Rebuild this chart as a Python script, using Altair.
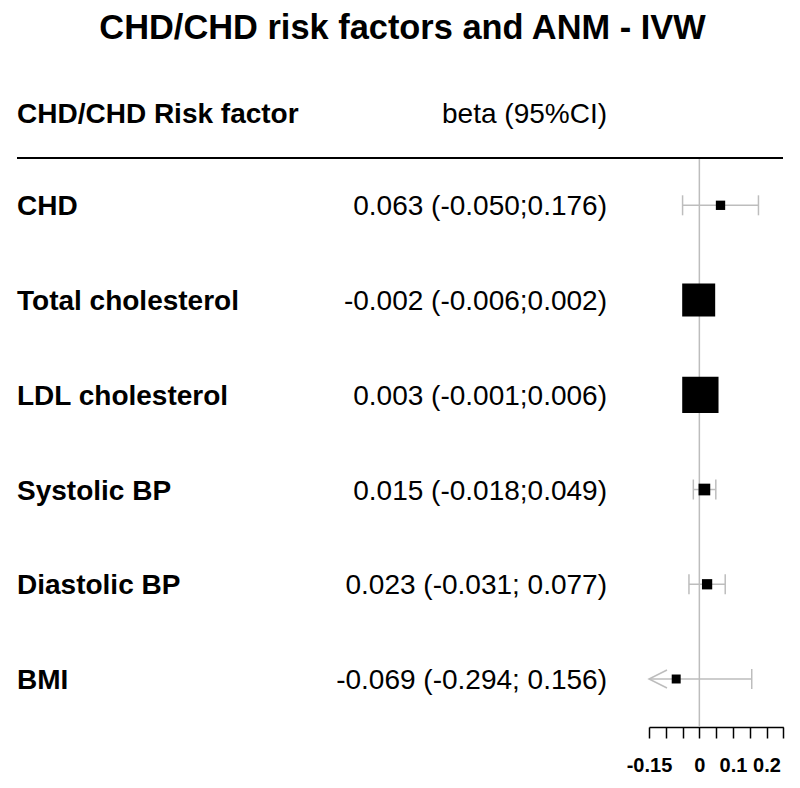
import altair as alt
import pandas as pd

# ---------------- data ----------------
chart_title = "CHD/CHD risk factors and ANM - IVW"
header_left = "CHD/CHD Risk factor"
header_right = "beta (95%CI)"

factors = ["CHD", "Total cholesterol", "LDL cholesterol", "Systolic BP", "Diastolic BP", "BMI"]
beta = [0.063, -0.002, 0.003, 0.015, 0.023, -0.069]
lower = [-0.050, -0.006, -0.001, -0.018, -0.031, -0.294]
upper = [0.176, 0.002, 0.006, 0.049, 0.077, 0.156]
ci_text = [
    "0.063 (-0.050;0.176)",
    "-0.002 (-0.006;0.002)",
    "0.003 (-0.001;0.006)",
    "0.015 (-0.018;0.049)",
    "0.023 (-0.031; 0.077)",
    "-0.069 (-0.294; 0.156)",
]
box_weight = [6.6, 82.6, 100, 10.4, 8.0, 6.1]  # relative box weight (%)

tick_values = [-0.15, -0.1, -0.05, 0, 0.05, 0.1, 0.15, 0.2, 0.25]
tick_label_values = [-0.15, 0, 0.1, 0.2]
tick_labels = ["-0.15", "0", "0.1", "0.2"]
x_min, x_max = -0.15, 0.25

# ---------------- tables ----------------
rows = list(range(len(factors)))
df = pd.DataFrame({
    "row": rows,
    "factor": factors,
    "beta": beta,
    "lower": lower,
    "upper": upper,
    "lo": [max(v, x_min) for v in lower],
    "hi": [min(v, x_max) for v in upper],
    "ci": ci_text,
    "w": box_weight,
})

caps = pd.DataFrame(
    [{"row": r, "x": l} for r, l in zip(rows, lower) if l >= x_min]
    + [{"row": r, "x": u} for r, u in zip(rows, upper) if u <= x_max]
)
arrows = pd.DataFrame([{"row": r, "x": x_min} for r, l in zip(rows, lower) if l < x_min])
zero_df = pd.DataFrame({"x": [0]})

GRAY = "#bdbdbd"
FONT = "Liberation Sans"
TXT = 28

label_expr = " : ".join(
    f"abs(datum.value - ({v})) < 1e-9 ? '{t}'" for v, t in zip(tick_label_values, tick_labels)
) + " : ''"

xscale = alt.Scale(domain=[x_min, x_max], range=[641, 775.3], nice=False, zero=False)
xaxis = alt.Axis(
    values=tick_values, labelExpr=label_expr, title=None, grid=False,
    domainColor="black", domainWidth=1.5, tickColor="black", tickWidth=1.5,
    tickSize=11, labelFont=FONT, labelFontWeight="bold", labelFontSize=20,
    labelColor="black", labelPadding=17, labelFlush=False, labelOverlap=False,
)
yscale = alt.Scale(domain=[0, 5], range=[197.3, 671], nice=False, zero=False)


def X(field):
    return alt.X(field, type="quantitative", scale=xscale, axis=xaxis)


def Y():
    return alt.Y("row:Q", scale=yscale, axis=None)


zero_line = alt.Chart(zero_df).mark_rule(color=GRAY, strokeWidth=1.5).encode(
    x=X("x"), y=alt.value(150), y2=alt.value(719)
)

ci_lines = alt.Chart(df).mark_rule(color=GRAY, strokeWidth=1.5).encode(
    x=X("lo"), x2="hi", y=Y()
)

cap_ticks = alt.Chart(caps).mark_tick(
    color=GRAY, orient="vertical", size=20, thickness=1.5, opacity=1
).encode(x=X("x"), y=Y())

arrow_heads = alt.Chart(arrows).mark_point(
    shape="M2,-1 L0,0 L2,1", size=324, filled=False, color=GRAY,
    strokeWidth=1.5, opacity=1
).encode(x=X("x"), y=Y())

boxes = alt.Chart(df).mark_square(color="black", opacity=1).encode(
    x=X("beta"), y=Y(),
    size=alt.Size("w:Q", scale=alt.Scale(domain=[0, 100], range=[0, 1318]), legend=None),
)

factor_text = alt.Chart(df).mark_text(
    align="left", baseline="middle", font=FONT, fontSize=TXT, fontWeight="bold",
    color="black", dy=2
).encode(x=alt.value(9), y=Y(), text="factor")

ci_labels = alt.Chart(df).mark_text(
    align="right", baseline="middle", font=FONT, fontSize=TXT, color="black", dy=2
).encode(x=alt.value(599), y=Y(), text="ci")

title_text = alt.Chart(pd.DataFrame({"t": [chart_title]})).mark_text(
    align="center", baseline="middle", font=FONT, fontSize=34.4, fontWeight="bold", color="black"
).encode(x=alt.value(394.5), y=alt.value(21), text="t")

head_left = alt.Chart(pd.DataFrame({"t": [header_left]})).mark_text(
    align="left", baseline="middle", font=FONT, fontSize=TXT, fontWeight="bold", color="black"
).encode(x=alt.value(9), y=alt.value(107), text="t")

head_right = alt.Chart(pd.DataFrame({"t": [header_right]})).mark_text(
    align="right", baseline="middle", font=FONT, fontSize=TXT, color="black"
).encode(x=alt.value(599), y=alt.value(107), text="t")

header_rule = alt.Chart(pd.DataFrame({"t": [1]})).mark_rule(color="black", strokeWidth=1.8).encode(
    x=alt.value(9), x2=alt.value(775), y=alt.value(150)
)

chart = alt.layer(
    zero_line, ci_lines, cap_ticks, arrow_heads, boxes,
    factor_text, ci_labels, title_text, head_left, head_right, header_rule,
).properties(
    width=784, height=719,
    autosize=alt.AutoSizeParams(type="none"),
    padding={"left": 0, "top": 0, "right": 0, "bottom": 53},
).configure(
    background="white", view=alt.ViewConfig(stroke=None)
)

chart.save("out.html", embed_options={"renderer": "svg", "actions": False})
